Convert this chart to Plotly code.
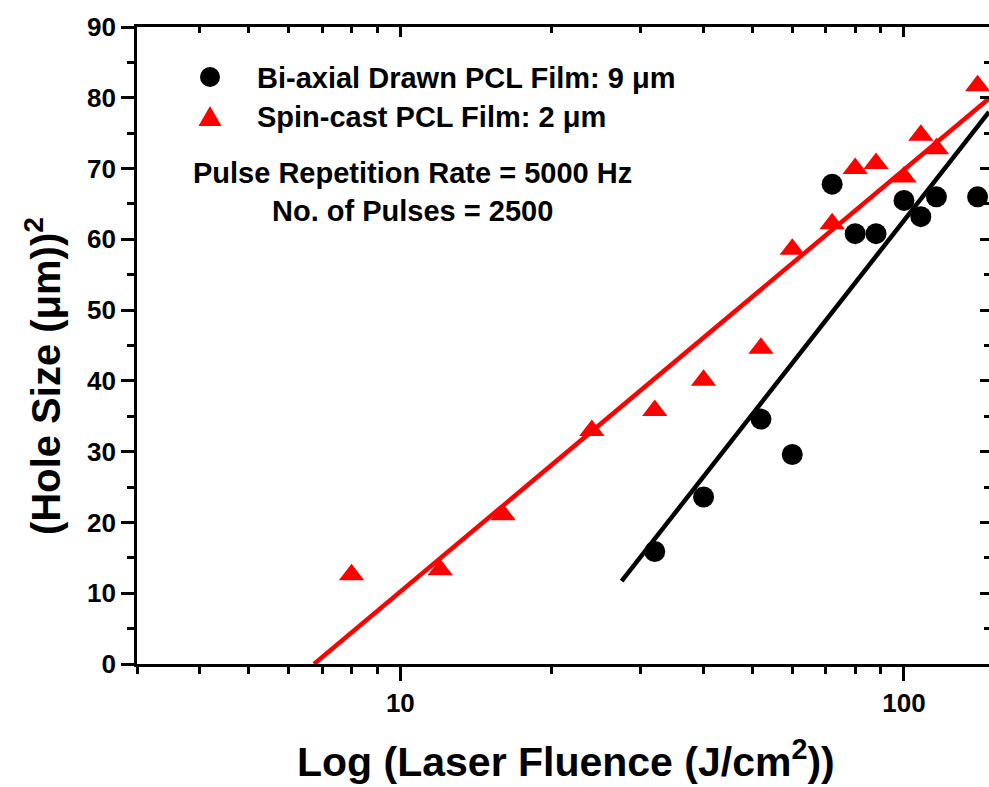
import numpy as np
import plotly.graph_objects as go

# ---- data ----
fluence_black = [32, 40, 52, 60, 72, 80, 88, 100, 108, 116, 140]
hole_black = [15.9, 23.6, 34.6, 29.6, 67.8, 60.8, 60.8, 65.5, 63.2, 66.0, 66.0]

fluence_red = [8, 12, 16, 24, 32, 40, 52, 60, 72, 80, 88, 100, 108, 116, 140]
hole_red = [12.6, 13.3, 21.1, 33.0, 35.8, 40.1, 44.6, 58.6, 62.2, 70.0, 70.7, 68.8, 74.7, 72.8, 81.7]

fit_black_x = [27.5, 147.5]
fit_black_y = [11.7, 78.0]
fit_red_x = [6.74, 147.5]
fit_red_y = [0.0, 79.9]

x_major = [10, 100]
x_minor = [3, 4, 5, 6, 7, 8, 9, 20, 30, 40, 50, 60, 70, 80, 90]
y_major = [0, 10, 20, 30, 40, 50, 60, 70, 80, 90]
y_minor = [5, 15, 25, 35, 45, 55, 65, 75, 85]

legend_names = ["Bi-axial Drawn PCL Film: 9 \u03bcm", "Spin-cast PCL Film: 2 \u03bcm"]
note_lines = ["Pulse Repetition Rate = 5000 Hz", "No. of Pulses = 2500"]
x_title = "Log (Laser Fluence (J/cm<sup>2</sup>))"
y_title = "(Hole Size (\u03bcm))<sup>2</sup>"

FONT = "Liberation Sans, Arial, sans-serif"
xr = [np.log10(3), np.log10(147.5)]
yr = [0, 90]

fig = go.Figure()
fig.add_trace(go.Scatter(x=fit_red_x, y=fit_red_y, mode="lines",
                         line=dict(color="#ff0000", width=4.5), xaxis="x2", yaxis="y2", showlegend=False))
fig.add_trace(go.Scatter(x=fit_black_x, y=fit_black_y, mode="lines",
                         line=dict(color="#000000", width=4.5), xaxis="x2", yaxis="y2", showlegend=False))
fig.add_trace(go.Scatter(x=fluence_black, y=hole_black, mode="markers", name=legend_names[0],
                         marker=dict(symbol="circle", size=21, color="#000000"), showlegend=False))
fig.add_trace(go.Scatter(x=fluence_red, y=hole_red, mode="markers", name=legend_names[1],
                         marker=dict(symbol="triangle-up", size=22, color="#ff0000"), showlegend=False))

tickfont = dict(family=FONT, size=26, color="black", weight="bold")
LW = 2.8

fig.update_layout(
    width=989, height=787,
    margin=dict(l=137, r=0, t=27, b=123),
    paper_bgcolor="white", plot_bgcolor="white",
    showlegend=False,
    xaxis=dict(type="log", range=xr, tickmode="array", tickvals=x_major, ticktext=["10", "100"],
               ticks="outside", ticklen=14, tickwidth=LW, tickcolor="black",
               showline=True, linewidth=LW, linecolor="black", mirror=True,
               showgrid=False, zeroline=False, tickfont=tickfont,
               minor=dict(tickmode="array", tickvals=x_minor, ticks="outside", ticklen=7,
                          tickwidth=LW, tickcolor="black", showgrid=False)),
    yaxis=dict(range=yr, tickmode="array", tickvals=y_major,
               ticks="outside", ticklen=13, tickwidth=LW, tickcolor="black",
               showline=True, linewidth=LW, linecolor="black", mirror=False,
               showgrid=False, zeroline=False, tickfont=tickfont,
               minor=dict(tickmode="array", tickvals=y_minor, ticks="outside", ticklen=7,
                          tickwidth=LW, tickcolor="black", showgrid=False)),
    xaxis2=dict(type="log", range=xr, overlaying="x", side="top", tickmode="array",
                tickvals=x_major, ticks="inside", ticklen=10, tickwidth=LW, tickcolor="black",
                showticklabels=False, showline=False, showgrid=False, zeroline=False,
                minor=dict(tickmode="array", tickvals=x_minor, ticks="inside", ticklen=6,
                           tickwidth=LW, tickcolor="black", showgrid=False)),
    yaxis2=dict(range=yr, overlaying="y", side="right", tickmode="array", tickvals=y_major,
                ticks="inside", ticklen=9, tickwidth=LW, tickcolor="black",
                showticklabels=False, showline=False, showgrid=False, zeroline=False,
                minor=dict(tickmode="array", tickvals=y_minor, ticks="inside", ticklen=5,
                           tickwidth=LW, tickcolor="black", showgrid=False)),
)

W, H, L, T = 852, 637, 137, 27
def px(xp):
    return (xp - L) / W
def py(yp):
    return (T + H - yp) / H

txtfont = dict(family=FONT, size=29, color="black", weight="bold")
ann = []
ann.append(dict(x=px(255), y=py(78), xref="paper", yref="paper", text=legend_names[0],
                showarrow=False, xanchor="left", yanchor="middle", font=txtfont))
ann.append(dict(x=px(255), y=py(117), xref="paper", yref="paper", text=legend_names[1],
                showarrow=False, xanchor="left", yanchor="middle", font=txtfont))
ann.append(dict(x=px(412), y=py(173), xref="paper", yref="paper", text=note_lines[0],
                showarrow=False, xanchor="center", yanchor="middle", font=txtfont))
ann.append(dict(x=px(412), y=py(211), xref="paper", yref="paper", text=note_lines[1],
                showarrow=False, xanchor="center", yanchor="middle", font=txtfont))
ann.append(dict(x=px(566), y=py(759), xref="paper", yref="paper", text=x_title,
                showarrow=False, xanchor="center", yanchor="middle",
                font=dict(family=FONT, size=41, color="black", weight="bold")))
ann.append(dict(x=px(43), y=py(376), xref="paper", yref="paper", text=y_title, textangle=-90,
                showarrow=False, xanchor="center", yanchor="middle",
                font=dict(family=FONT, size=40, color="black", weight="bold")))
fig.update_layout(annotations=ann)

shapes = [
    dict(type="circle", xref="paper", yref="paper", xsizemode="pixel", ysizemode="pixel",
         xanchor=px(210), yanchor=py(77), x0=-10, x1=10, y0=-10, y1=10,
         fillcolor="#000000", line=dict(width=0)),
    dict(type="path", xref="paper", yref="paper", xsizemode="pixel", ysizemode="pixel",
         xanchor=px(210), yanchor=py(116), path="M-11.5,-10 L11.5,-10 L0,10 Z",
         fillcolor="#ff0000", line=dict(width=0)),
]
fig.update_layout(shapes=shapes)

fig.write_html("out.html")
